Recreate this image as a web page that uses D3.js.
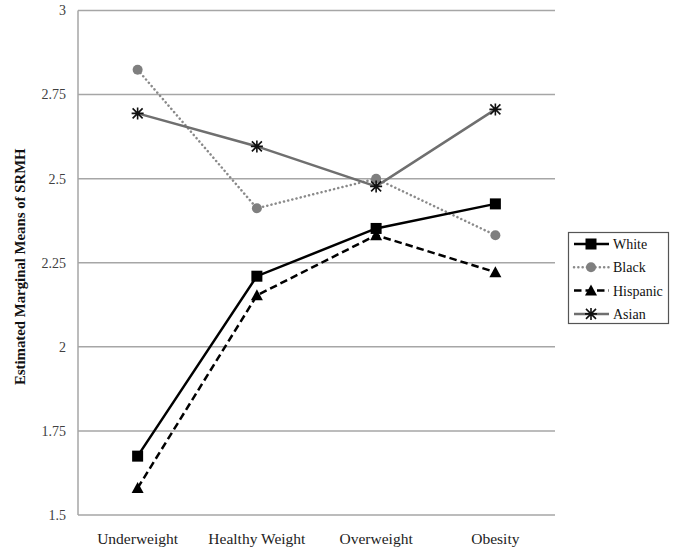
<!DOCTYPE html>
<html><head><meta charset="utf-8">
<script src="https://cdn.jsdelivr.net/npm/d3@7"></script>
<style>body{margin:0;background:#fff;}svg{display:block;}</style>
</head><body>
<svg id="c" width="675" height="550"></svg>
<script>
const categories = ["Underweight", "Healthy Weight", "Overweight", "Obesity"];
const white = [1.675, 2.21, 2.352, 2.425];
const black = [2.824, 2.412, 2.5, 2.332];
const hispanic = [1.58, 2.153, 2.332, 2.222];
const asian = [2.694, 2.596, 2.477, 2.706];
const yTicks = [1.5, 1.75, 2, 2.25, 2.5, 2.75, 3];
const seriesNames = ["White", "Black", "Hispanic", "Asian"];

const svg = d3.select("#c");
const L = 78, R = 555, T = 10.5, B = 515;
const x = d3.scaleBand().domain(categories).range([L, R]);
const y = d3.scaleLinear().domain([1.5, 3]).range([B, T]);
const font = "'Liberation Serif','Times New Roman',serif";

// grid
svg.append("g").selectAll("line").data(yTicks).join("line")
  .attr("x1", L).attr("x2", R).attr("y1", d => y(d)).attr("y2", d => y(d))
  .attr("stroke", "#a6a6a6").attr("stroke-width", 1.5);
svg.append("line").attr("x1", L).attr("x2", L).attr("y1", T).attr("y2", B)
  .attr("stroke", "#a6a6a6").attr("stroke-width", 1.5);

// y tick labels
svg.append("g").selectAll("text").data(yTicks).join("text")
  .attr("x", 66).attr("y", d => y(d)).attr("dy", "0.35em")
  .attr("text-anchor", "end").attr("font-family", font).attr("font-size", 14)
  .attr("fill", "#404040").text(d => d3.format("")(d));

// x labels
svg.append("g").selectAll("text").data(categories).join("text")
  .attr("x", d => x(d) + x.bandwidth() / 2).attr("y", 544)
  .attr("text-anchor", "middle").attr("font-family", font).attr("font-size", 15.5)
  .attr("fill", "#222").text(d => d);

// axis title
svg.append("text").attr("transform", `translate(25,${(T + B) / 2 + 4}) rotate(-90)`)
  .attr("text-anchor", "middle").attr("font-family", font).attr("font-size", 14.8)
  .attr("font-weight", "bold").attr("fill", "#111").text("Estimated Marginal Means of SRMH");

const styles = {
  White: {data: white, color: "#000", width: 2.5, dash: null, marker: "square", mcolor: "#000"},
  Black: {data: black, color: "#8a8a8a", width: 2.5, dash: "0.1,4.2", marker: "circle", mcolor: "#7f7f7f"},
  Hispanic: {data: hispanic, color: "#000", width: 2.5, dash: "7.5,4", marker: "triangle", mcolor: "#000"},
  Asian: {data: asian, color: "#6f6f6f", width: 2.5, dash: null, marker: "star", mcolor: "#111"}
};
const cx = c => x(c) + x.bandwidth() / 2;

function drawMarker(g, type, px, py, color) {
  if (type === "square") {
    g.append("rect").attr("x", px - 5.5).attr("y", py - 5.5).attr("width", 11).attr("height", 11).attr("fill", color);
  } else if (type === "circle") {
    g.append("circle").attr("cx", px).attr("cy", py).attr("r", 5).attr("fill", color);
  } else if (type === "triangle") {
    g.append("path").attr("d", `M${px},${py - 6}L${px + 6},${py + 5}L${px - 6},${py + 5}Z`).attr("fill", color);
  } else if (type === "star") {
    const s = 5;
    g.append("path").attr("d", `M${px - s},${py - s}L${px + s},${py + s}M${px - s},${py + s}L${px + s},${py - s}M${px - s - 1},${py}L${px + s + 1},${py}M${px},${py - s - 1}L${px},${py + s + 1}`)
      .attr("stroke", color).attr("stroke-width", 1.6).attr("fill", "none");
  }
}

const line = d3.line().x(d => cx(d.c)).y(d => y(d.v));
const order = ["Black", "Asian", "Hispanic", "White"];
order.forEach(name => {
  const s = styles[name];
  const pts = categories.map((c, i) => ({c, v: s.data[i]}));
  const g = svg.append("g");
  g.append("path").datum(pts).attr("d", line).attr("fill", "none")
    .attr("stroke", s.color).attr("stroke-width", s.width)
    .attr("stroke-dasharray", s.dash).attr("stroke-linecap", name === "Black" ? "round" : "butt");
  pts.forEach(p => drawMarker(g, s.marker, cx(p.c), y(p.v), s.mcolor));
});

// legend
const lg = svg.append("g");
lg.append("rect").attr("x", 568.5).attr("y", 232.5).attr("width", 100).attr("height", 91)
  .attr("fill", "#fff").attr("stroke", "#555").attr("stroke-width", 1.2);
seriesNames.forEach((name, i) => {
  const s = styles[name];
  const ly = 244 + i * 23.3;
  lg.append("line").attr("x1", 574).attr("x2", 609).attr("y1", ly).attr("y2", ly)
    .attr("stroke", s.color).attr("stroke-width", s.width).attr("stroke-dasharray", s.dash)
    .attr("stroke-linecap", name === "Black" ? "round" : "butt");
  drawMarker(lg, s.marker, 591, ly, s.mcolor);
  lg.append("text").attr("x", 613).attr("y", ly).attr("dy", "0.35em")
    .attr("font-family", font).attr("font-size", 14).attr("fill", "#111").text(name);
});
</script>
</body></html>
